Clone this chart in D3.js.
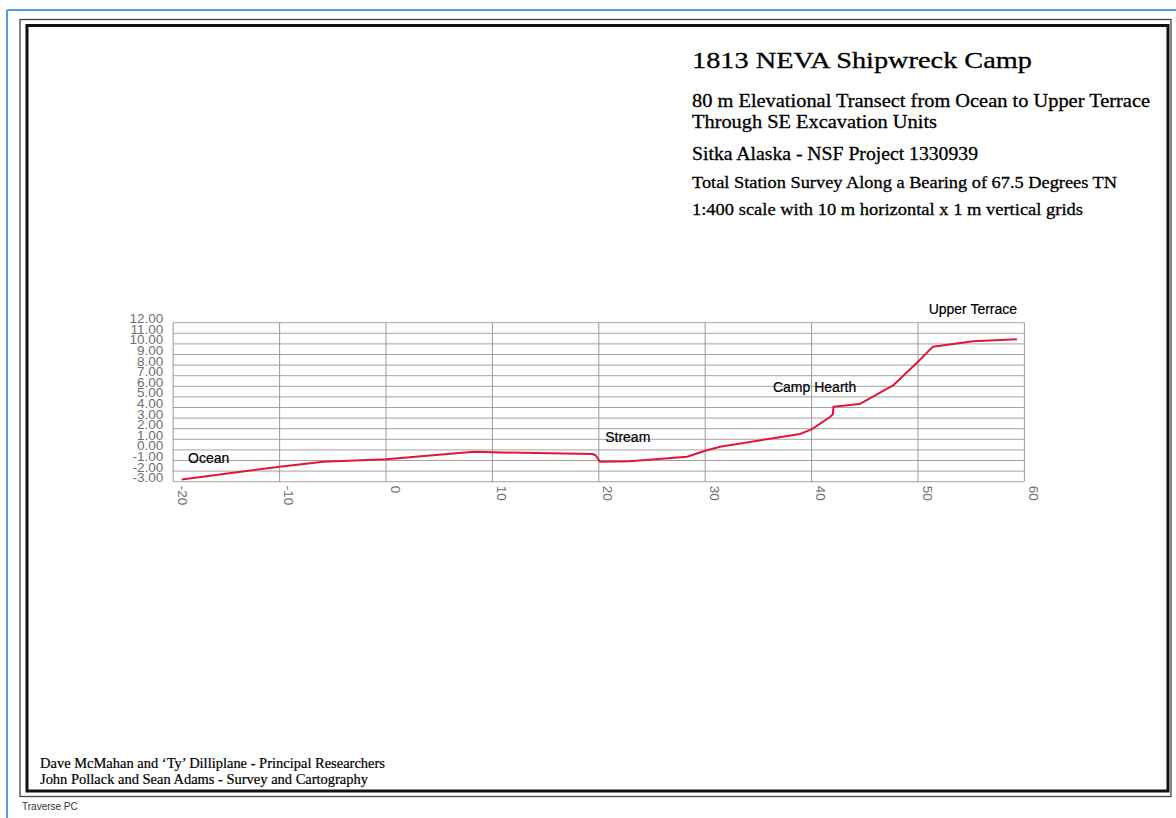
<!DOCTYPE html>
<html>
<head>
<meta charset="utf-8">
<script src="https://cdn.jsdelivr.net/npm/d3@7"></script>
<style>
  html, body { margin: 0; padding: 0; background: #fff; }
  svg { display: block; }
</style>
</head>
<body>
<svg id="chart" width="1176" height="818"></svg>
<script>
// ---- data ----
const distance = [-19.2, -10, -5.9, 0, 8.3, 10, 19.4, 19.7, 20.1, 22.9, 28.3, 30, 31.4, 38.9, 40, 41.7, 42.0, 42.05, 44.5, 47.7, 50, 51.4, 55.2, 59.3];
const elevation = [-2.8, -1.58, -1.11, -0.89, -0.17, -0.23, -0.39, -0.5, -1.11, -1.08, -0.64, -0.08, 0.3, 1.5, 1.94, 3.08, 3.36, 4.08, 4.33, 6.12, 8.32, 9.74, 10.25, 10.43];
const xTicks = [-20, -10, 0, 10, 20, 30, 40, 50, 60];
const yTicks = [-3, -2, -1, 0, 1, 2, 3, 4, 5, 6, 7, 8, 9, 10, 11, 12];
const annotationText = ["Ocean", "Stream", "Camp Hearth", "Upper Terrace"];
const annotationX = [-18.6, 20.6, 36.37, 51.0];
const annotationY = [-1.24, 0.75, 5.43, 12.84];
const titleLines = [
  "1813 NEVA Shipwreck Camp",
  "80 m Elevational Transect from Ocean to Upper Terrace",
  "Through SE Excavation Units",
  "Sitka Alaska - NSF Project 1330939",
  "Total Station Survey Along a Bearing of 67.5 Degrees TN",
  "1:400 scale with 10 m horizontal x 1 m vertical grids"
];
const creditLines = [
  "Dave McMahan and \u2018Ty\u2019 Dilliplane - Principal Researchers",
  "John Pollack and Sean Adams - Survey and Cartography"
];
const footerText = "Traverse PC";

// ---- layout ----
const svg = d3.select("#chart");
const plotLeft = 173.2, plotRight = 1024.4, plotTop = 322.7, plotBottom = 481.7;

// page frames
svg.append("line").attr("x1", 7).attr("y1", 10).attr("x2", 1176).attr("y2", 10)
  .attr("stroke", "#5b9bd5").attr("stroke-width", 2);
svg.append("line").attr("x1", 7).attr("y1", 10).attr("x2", 7).attr("y2", 818)
  .attr("stroke", "#5b9bd5").attr("stroke-width", 2);
svg.append("rect").attr("x", 20).attr("y", 19.5).attr("width", 1151).attr("height", 777)
  .attr("fill", "none").attr("stroke", "#444").attr("stroke-width", 1.3);
svg.append("rect").attr("x", 27).attr("y", 25.5).attr("width", 1141).attr("height", 765.5)
  .attr("fill", "none").attr("stroke", "#111").attr("stroke-width", 3);

// scales
const x = d3.scaleLinear().domain([-20, 60]).range([plotLeft, plotRight]);
const y = d3.scaleLinear().domain([-3, 12]).range([plotBottom, plotTop]);

// grid
const grid = svg.append("g");
grid.selectAll("line.h").data(yTicks).join("line").attr("class", "h")
  .attr("x1", x(-20)).attr("x2", x(60))
  .attr("y1", d => y(d)).attr("y2", d => y(d))
  .attr("stroke", "#a3a3a3").attr("stroke-width", 1);
grid.selectAll("line.v").data(xTicks).join("line").attr("class", "v")
  .attr("x1", d => x(d)).attr("x2", d => x(d))
  .attr("y1", y(-3)).attr("y2", y(12))
  .attr("stroke", "#999").attr("stroke-width", 1);

// y axis
const yAxis = svg.append("g").attr("transform", `translate(${plotLeft},0)`)
  .call(d3.axisLeft(y).tickValues(yTicks).tickFormat(d => d.toFixed(2)).tickSize(0).tickPadding(10));
yAxis.select(".domain").remove();
yAxis.selectAll("text").attr("dy", "0").attr("font-family", "'Liberation Sans', Arial, sans-serif")
  .attr("font-size", 13.5).attr("fill", "#707070");

// x axis
const xAxis = svg.append("g").attr("transform", `translate(0,${plotBottom})`)
  .call(d3.axisBottom(x).tickValues(xTicks).tickFormat(d => String(d)).tickSize(0));
xAxis.select(".domain").remove();
xAxis.selectAll("text")
  .attr("transform", "rotate(90)")
  .attr("x", 4).attr("y", -4).attr("dy", "0")
  .attr("text-anchor", "start")
  .attr("font-family", "'Liberation Sans', Arial, sans-serif")
  .attr("font-size", 13.5).attr("fill", "#707070");

// profile line
const pts = distance.map((d, i) => [d, elevation[i]]);
svg.append("path").datum(pts)
  .attr("fill", "none").attr("stroke", "#e0163c").attr("stroke-width", 2)
  .attr("stroke-linejoin", "round")
  .attr("d", d3.line().x(d => x(d[0])).y(d => y(d[1])));

// annotations
svg.selectAll("text.ann").data(annotationText).join("text").attr("class", "ann")
  .attr("x", (d, i) => x(annotationX[i])).attr("y", (d, i) => y(annotationY[i]))
  .attr("font-family", "'Liberation Sans', Arial, sans-serif")
  .attr("font-size", 14).attr("fill", "#000")
  .attr("stroke", "#000").attr("stroke-width", 0.2)
  .text(d => d);

// titles
const titleSpecs = [
  {size: 24, base: 68, w: 340},
  {size: 18.5, base: 107, w: 458},
  {size: 18.5, base: 128, w: 245},
  {size: 18.5, base: 160, w: 286},
  {size: 17.5, base: 188, w: 425},
  {size: 17.5, base: 215, w: 391}
];
svg.selectAll("text.title").data(titleLines).join("text").attr("class", "title")
  .attr("x", 692).attr("y", (d, i) => titleSpecs[i].base)
  .attr("font-family", "'Liberation Serif', 'Times New Roman', serif")
  .attr("font-size", (d, i) => titleSpecs[i].size)
  .attr("textLength", (d, i) => titleSpecs[i].w)
  .attr("lengthAdjust", "spacingAndGlyphs")
  .attr("fill", "#000").attr("stroke", "#000").attr("stroke-width", 0.3)
  .text(d => d);

// credits
const creditW = [345, 328];
const creditBase = [768, 784];
svg.selectAll("text.credit").data(creditLines).join("text").attr("class", "credit")
  .attr("x", 40).attr("y", (d, i) => creditBase[i])
  .attr("font-family", "'Liberation Serif', 'Times New Roman', serif")
  .attr("font-size", 14)
  .attr("textLength", (d, i) => creditW[i])
  .attr("lengthAdjust", "spacingAndGlyphs")
  .attr("fill", "#000").attr("stroke", "#000").attr("stroke-width", 0.2)
  .text(d => d);

svg.append("text").attr("x", 22).attr("y", 810)
  .attr("font-family", "'Liberation Sans', Arial, sans-serif")
  .attr("font-size", 10).attr("fill", "#333")
  .text(footerText);
</script>
</body>
</html>
